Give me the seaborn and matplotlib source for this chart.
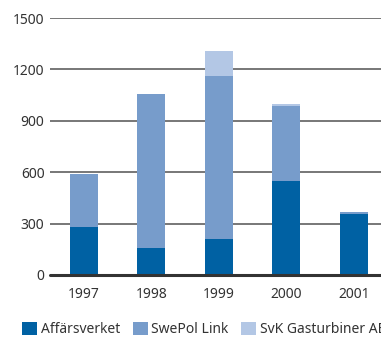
import matplotlib
matplotlib.use("Agg")
import matplotlib.pyplot as plt
import matplotlib.patches as mpatches
import seaborn as sns
import pandas as pd
import numpy as np

years = ["1997", "1998", "1999", "2000", "2001"]
affarsverket = [280, 157, 210, 548, 355]
swepol_link = [308, 898, 950, 437, 10]
svk_gasturbiner = [0, 0, 146, 12, 0]
series_names = ["Affärsverket", "SwePol Link", "SvK Gasturbiner AB"]
colors = ["#0061A3", "#779CCB", "#B3C7E5"]
yticks = [0, 300, 600, 900, 1200, 1500]

sns.set_theme(style="white")
plt.rcParams["font.family"] = ["Noto Sans", "DejaVu Sans"]

df = pd.DataFrame({
    "year": years,
    "a": affarsverket,
    "b": swepol_link,
    "c": svk_gasturbiner,
})
df["ab"] = df["a"] + df["b"]
df["abc"] = df["ab"] + df["c"]

fig = plt.figure(figsize=(3.81, 3.37), dpi=100)
ax = fig.add_axes([50 / 381, 1 - 275 / 337, 1 - 50 / 381, (275 - 18) / 337])

w = 0.415
sns.barplot(data=df, x="year", y="abc", color=colors[2], width=w, saturation=1, ax=ax, zorder=3)
sns.barplot(data=df, x="year", y="ab", color=colors[1], width=w, saturation=1, ax=ax, zorder=3)
sns.barplot(data=df, x="year", y="a", color=colors[0], width=w, saturation=1, ax=ax, zorder=3)
for p in ax.patches:
    p.set_linewidth(0)

ax.set_ylim(0, 1500)
ax.set_xlim(-0.5, 4.4)
ax.set_yticks(yticks)
ax.set_yticklabels([str(t) for t in yticks])
ax.set_xlabel("")
ax.set_ylabel("")
for s in ax.spines.values():
    s.set_visible(False)
ax.yaxis.grid(True, color="#606060", linewidth=1.2, zorder=1)
ax.set_axisbelow(True)
ax.axhline(0, color="#333333", linewidth=2.2, zorder=4, clip_on=False)
ax.tick_params(axis="both", length=0, labelsize=10, colors="#333333")
ax.tick_params(axis="y", pad=4)
ax.tick_params(axis="x", pad=9)

handles = [mpatches.Patch(facecolor=c, edgecolor="none", label=n) for c, n in zip(colors, series_names)]
fig.legend(handles=handles, loc="upper left", bbox_to_anchor=(22 / 381, 1 - 322 / 337),
           ncol=3, frameon=False, fontsize=10, handlelength=1.1, handleheight=1.1,
           handletextpad=0.25, columnspacing=0.9, borderaxespad=0, borderpad=0,
           labelcolor="#333333")

fig.savefig("out.png", dpi=100)
